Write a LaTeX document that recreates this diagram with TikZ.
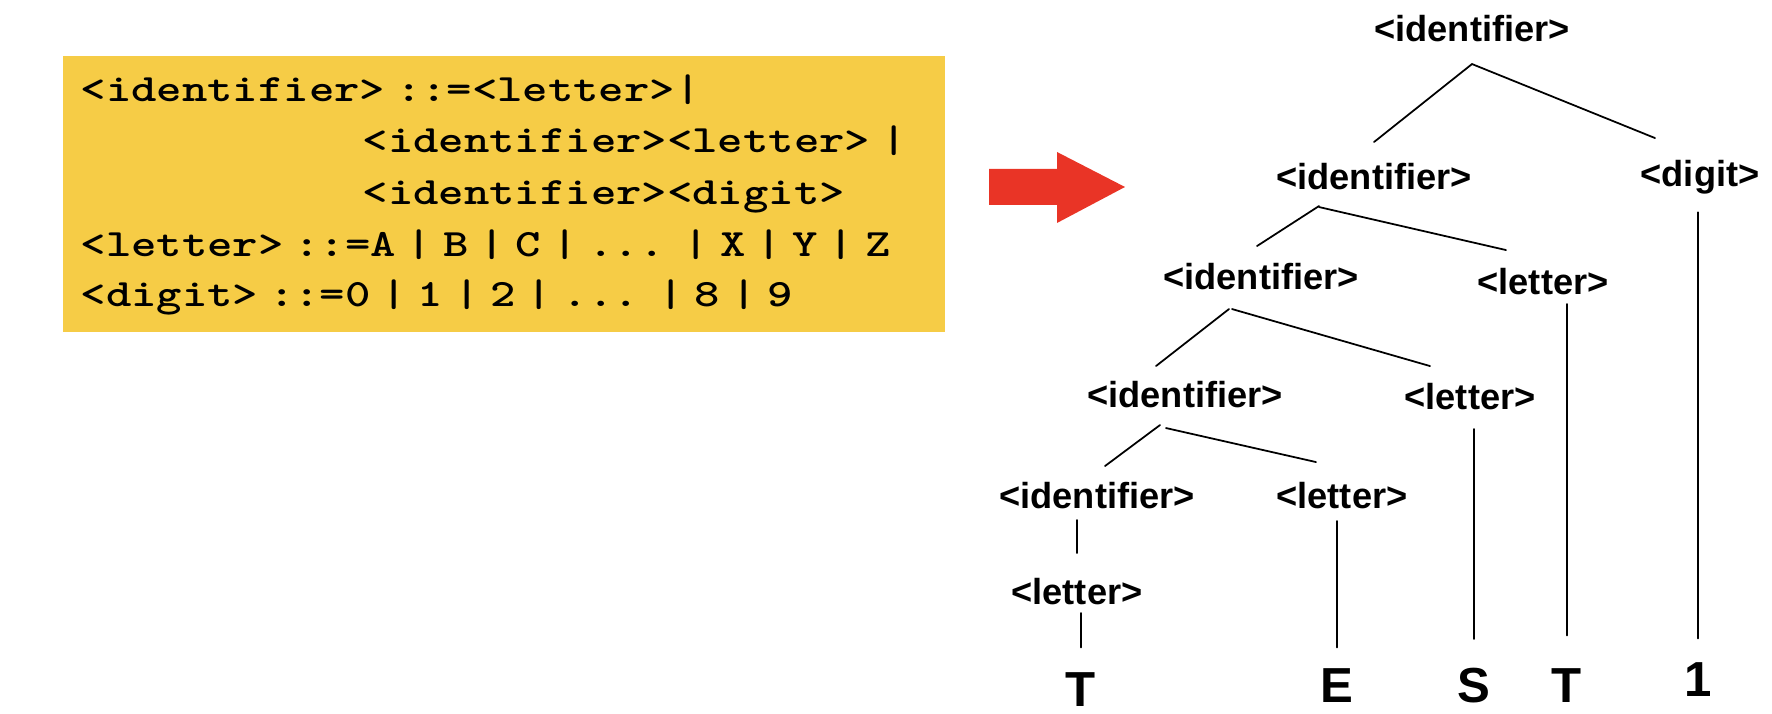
\documentclass[tikz,border=0pt]{standalone}
\usepackage{fontspec}
\setsansfont{Liberation Sans}
\newfontfamily\codefont{Latin Modern Mono Light}[FakeStretch=1.25, WordSpace=0.43]
\definecolor{boxyellow}{RGB}{246,204,70}
\definecolor{arrowred}{RGB}{233,52,38}

\begin{document}
\begin{tikzpicture}[x=1cm, y=-1cm, line cap=round,
    lbl/.style={font=\sffamily\bfseries\fontsize{10.3}{12}\selectfont, inner sep=0pt, anchor=base},
    leaf/.style={font=\sffamily\bfseries\fontsize{14}{16}\selectfont, inner sep=0pt, anchor=base},
    code/.style={font=\codefont\bfseries\fontsize{11}{13}\selectfont, inner sep=0pt, anchor=base west},
    tline/.style={line width=0.5pt}]
  % frame (fixes the aspect ratio)
  \useasboundingbox (0,0) rectangle (17.72,7.14);

  % Grammar box
  \fill[boxyellow] (0.63,0.56) rectangle (9.45,3.32);
  \node[code] (gA) at (0.80,1.02) {<identifier> ::=<letter>|};
  \node[code] (gB) at (3.62,1.53) {<identifier><letter> |};
  \node[code] (gC) at (3.62,2.05) {<identifier><digit>};
  \node[code] (gD) at (0.80,2.57) {<letter> ::=A | B | C | ... | X | Y | Z};
  \node[code] (gE) at (0.80,3.07) {<digit> ::=0 | 1 | 2 | ... | 8 | 9};

  % Arrow
  \fill[arrowred] (9.89,1.69) -- (10.57,1.69) -- (10.57,1.52) -- (11.25,1.87)
    -- (10.57,2.23) -- (10.57,2.05) -- (9.89,2.05) -- cycle;

  % Parse tree
  \node[lbl] (root) at (14.72,0.42) {<identifier>};
  \node[lbl] (ida) at (13.74,1.90) {<identifier>};
  \node[lbl] (dgt) at (17.00,1.87) {<digit>};
  \node[lbl] (idb) at (12.61,2.90) {<identifier>};
  \node[lbl] (ltb) at (15.43,2.95) {<letter>};
  \node[lbl] (idc) at (11.85,4.08) {<identifier>};
  \node[lbl] (ltc) at (14.70,4.10) {<letter>};
  \node[lbl] (idd) at (10.97,5.09) {<identifier>};
  \node[lbl] (ltd) at (13.42,5.09) {<letter>};
  \node[lbl] (lte) at (10.77,6.05) {<letter>};

  \node[leaf] (tA) at (10.81,7.07) {T};
  \node[leaf] (eB) at (13.37,7.03) {E};
  \node[leaf] (sC) at (14.74,7.03) {S};
  \node[leaf] (tD) at (15.67,7.03) {T};
  \node[leaf] (oneE) at (16.98,6.97) {1};

  \draw[tline] ([yshift=-0.21cm]root.south) -- ([yshift=0.21cm]ida.north);
  \draw[tline] ([yshift=-0.21cm]root.south) -- ([xshift=-0.45cm,yshift=0.22cm]dgt.north);
  \draw[tline] ([xshift=-0.55cm,yshift=-0.15cm]ida.south) -- ([xshift=-0.04cm,yshift=0.17cm]idb.north);
  \draw[tline] ([xshift=-0.55cm,yshift=-0.16cm]ida.south) -- ([xshift=-0.37cm,yshift=0.18cm]ltb.north);
  \draw[tline] ([xshift=-0.32cm,yshift=-0.18cm]idb.south) -- ([xshift=-0.29cm,yshift=0.15cm]idc.north);
  \draw[tline] ([xshift=-0.29cm,yshift=-0.18cm]idb.south) -- ([xshift=-0.40cm,yshift=0.17cm]ltc.north);
  \draw[tline] ([xshift=-0.25cm,yshift=-0.16cm]idc.south) -- ([xshift=0.08cm,yshift=0.16cm]idd.north);
  \draw[tline] ([xshift=-0.19cm,yshift=-0.19cm]idc.south) -- ([xshift=-0.26cm,yshift=0.20cm]ltd.north);

  % down to the leaves
  \draw[tline] ([yshift=-0.17cm]oneE.north |- dgt.south) -- ([yshift=0.24cm]oneE.north);
  \draw[tline] ([yshift=-0.08cm]tD.north |- ltb.south) -- ([yshift=0.33cm]tD.north);
  \draw[tline] ([yshift=-0.18cm]sC.north |- ltc.south) -- ([yshift=0.29cm]sC.north);
  \draw[tline] ([yshift=-0.11cm]eB.north |- ltd.south) -- ([yshift=0.21cm]eB.north);
  \draw[tline] ([yshift=-0.10cm]lte.north |- idd.south) -- ([yshift=0.25cm]lte.north);
  \draw[tline] ([yshift=-0.07cm]tA.north |- lte.south) -- ([yshift=0.25cm]tA.north);
\end{tikzpicture}
\end{document}
